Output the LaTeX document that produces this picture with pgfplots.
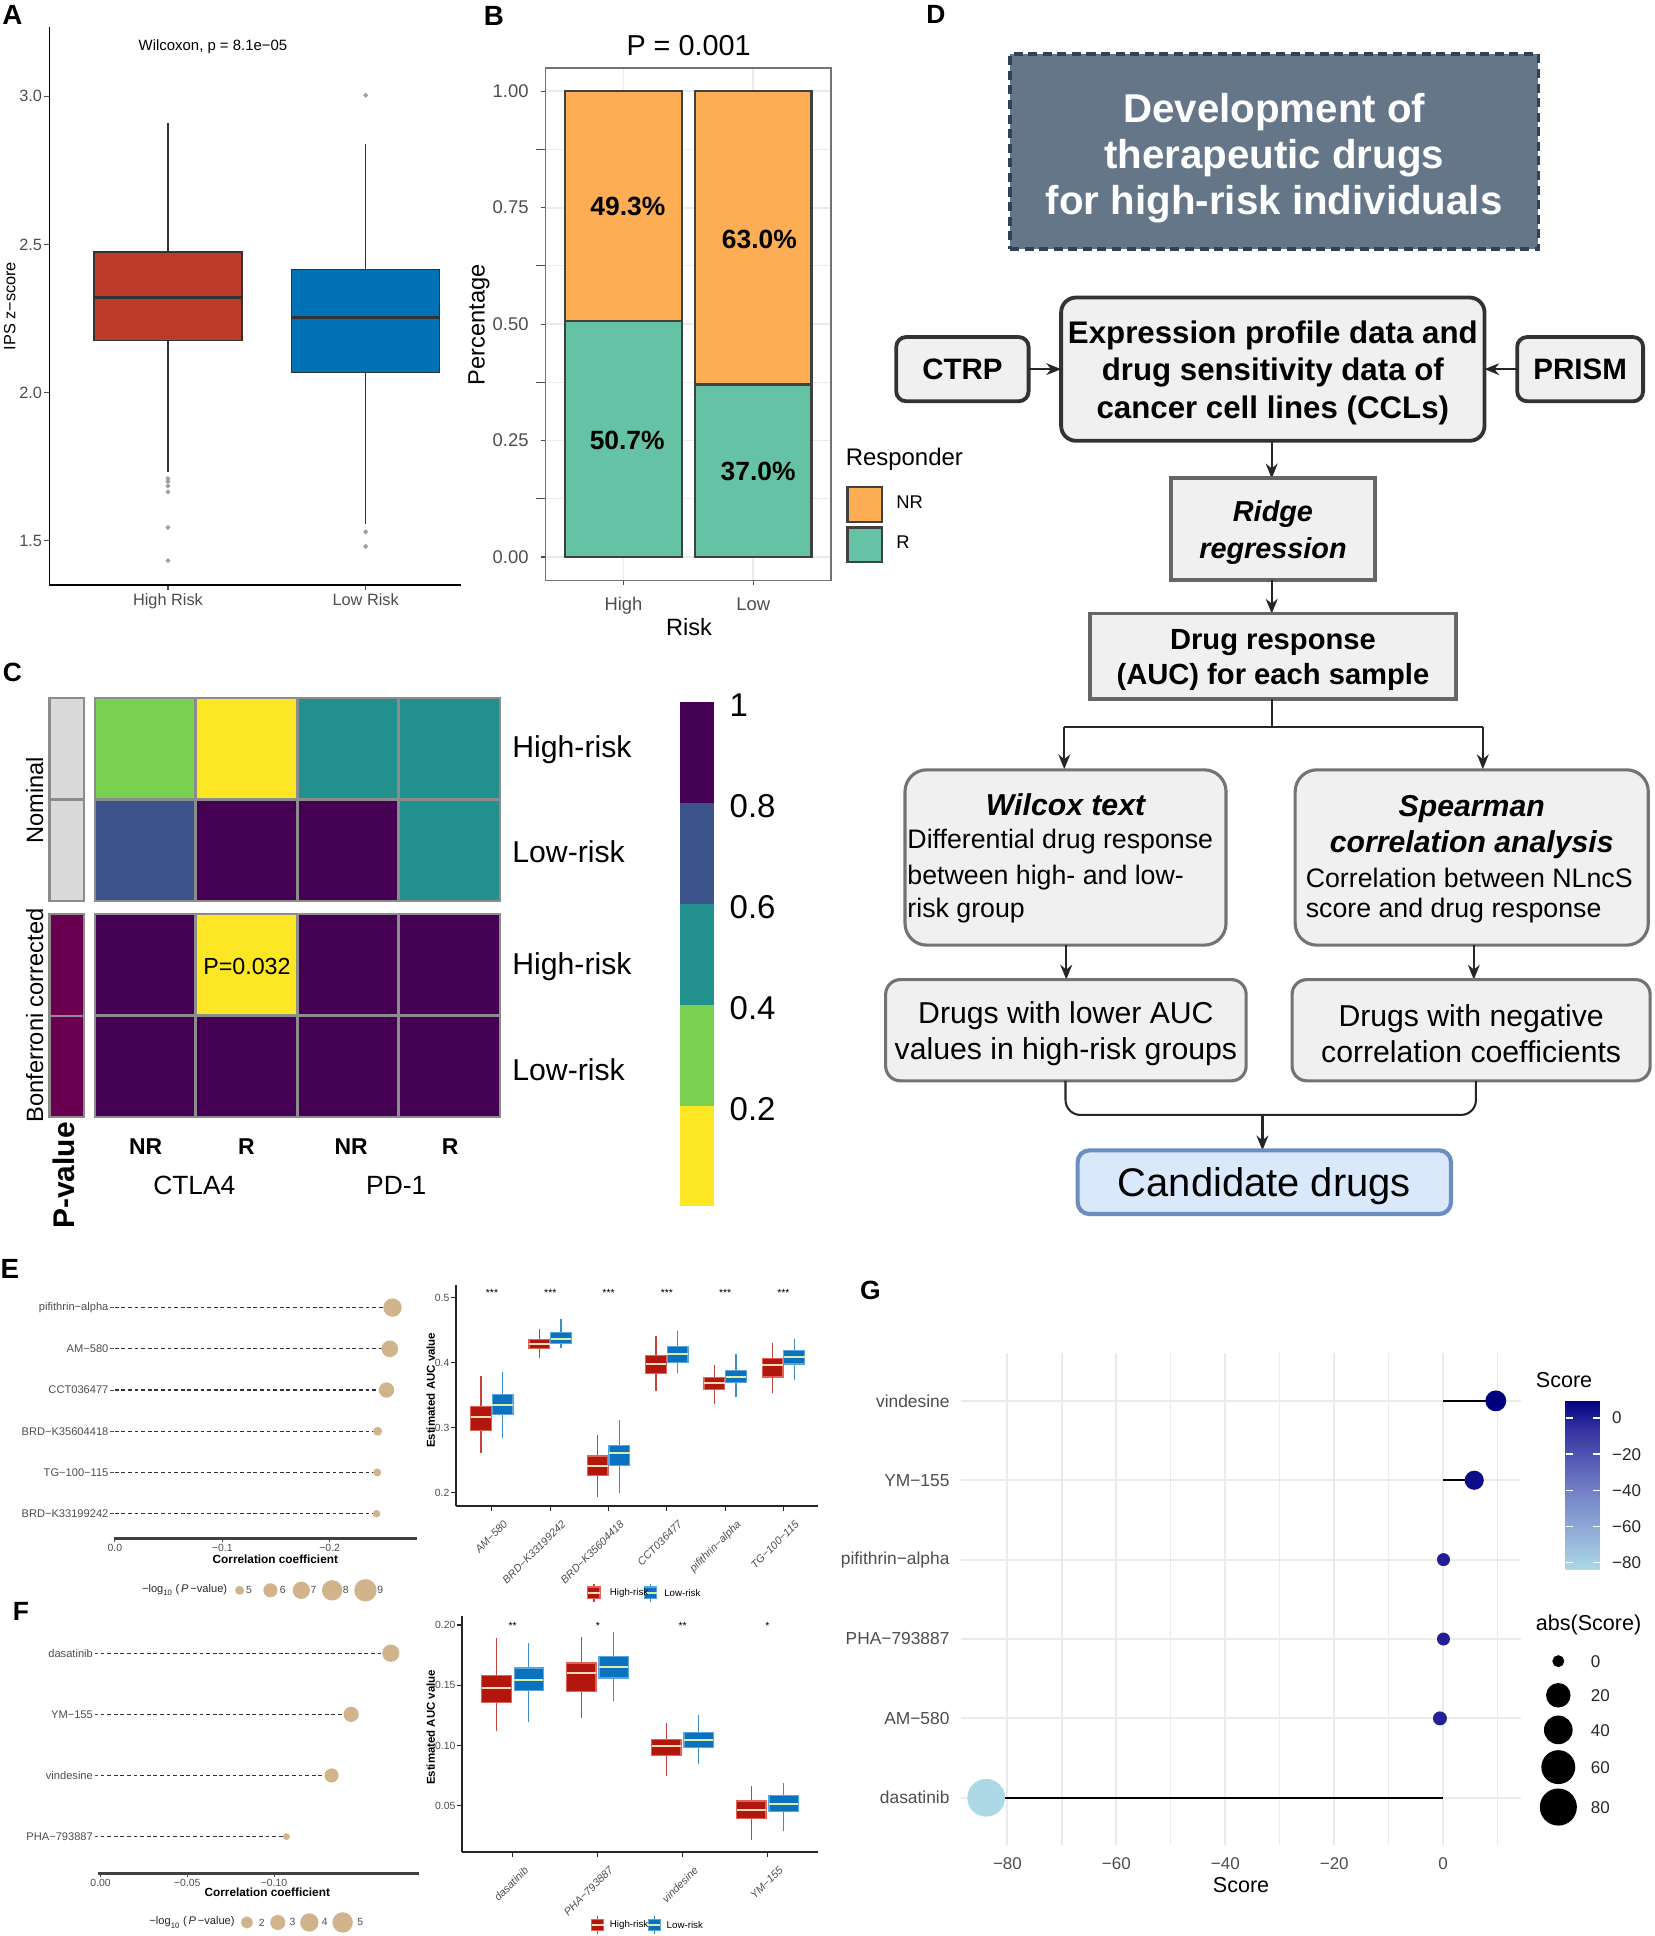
\documentclass[border=0pt]{standalone}
\usepackage{fontspec}
\setmainfont{Liberation Sans}
\usepackage{pgfplots}
\pgfplotsset{compat=1.18}
\usepgfplotslibrary{statistics}
\usetikzlibrary{arrows.meta}

\definecolor{gthirty}{RGB}{77,77,77}
\definecolor{nejmred}{RGB}{188,60,41}
\definecolor{nejmblue}{RGB}{0,114,181}
\definecolor{nrorange}{RGB}{253,174,84}
\definecolor{rgreen}{RGB}{102,194,165}
\definecolor{gridgrey}{RGB}{235,235,235}
\definecolor{cellgrey}{RGB}{140,140,140}
\definecolor{annogrey}{RGB}{218,218,218}
\definecolor{annomag}{RGB}{108,0,80}
\definecolor{titlebox}{RGB}{100,118,136}
\definecolor{titleedge}{RGB}{48,66,86}
\definecolor{boxfill}{RGB}{240,240,240}
\definecolor{candfill}{RGB}{218,232,252}
\definecolor{candedge}{RGB}{108,142,191}
\definecolor{tanc}{RGB}{210,180,140}
\definecolor{bxred}{RGB}{178,22,12}
\definecolor{bxredl}{RGB}{222,100,90}
\definecolor{bxblue}{RGB}{10,114,190}
\definecolor{bxbluel}{RGB}{90,165,222}
\definecolor{medred}{RGB}{245,222,190}
\definecolor{medblue}{RGB}{222,236,170}

\newcommand\fs[1]{\fontsize{#1}{#1}\selectfont}

\pgfplotsset{
  panel/.style={scale only axis, anchor=south west},
  hrbox/.style={draw=bxredl, fill=bxred, line width=0.35pt, solid,
    boxplot/every median/.style={draw=medred, line width=0.55pt},
    boxplot/every whisker/.style={draw=bxred!80!white, line width=0.35pt}},
  lrbox/.style={draw=bxbluel, fill=bxblue, line width=0.35pt, solid,
    boxplot/every median/.style={draw=medblue, line width=0.55pt},
    boxplot/every whisker/.style={draw=bxblue!80!white, line width=0.35pt}},
  sized/.style={visualization depends on={\thisrow{r}\as\rad},
    scatter/@pre marker code/.append style={/tikz/mark size=\rad}},
}

\begin{document}
\begin{tikzpicture}
\useasboundingbox (0,0) rectangle (167.5mm,-196mm);

% ---------------- A: IPS z-score boxplot
\begin{axis}[panel, at={(5mm,-59.25mm)}, width=41.625mm, height=56.5mm,
  xmin=0.4, xmax=2.48, ymin=1.35, ymax=3.233,
  axis x line*=bottom, axis y line*=left, axis line style={black, line width=0.5pt, -},
  xtick={1,2}, xticklabels={High Risk,Low Risk},
  ytick={1.5,2,2.5,3}, yticklabels={1.5,2.0,2.5,3.0},
  tick label style={font=\fs{4.7pt}, text=gthirty},
  xticklabel style={inner sep=0pt, yshift=-0.3mm},
  yticklabel style={inner sep=0.5pt},
  tick style={gthirty, line width=0.3pt}, major tick length=0.5mm, tick align=outside,
  boxplot/draw direction=y, boxplot/box extend=0.75, boxplot/whisker extend=0,
]
\addplot[boxplot prepared={draw position=1, lower whisker=1.732, lower quartile=2.175,
    median=2.321, upper quartile=2.475, upper whisker=2.911},
  draw=black!80, fill=nejmred, line width=0.4pt,
  boxplot/every median/.style={line width=0.9pt},
  mark=*, mark size=0.45pt, mark options={draw=gray!75, fill=gray!75}]
  table[row sep=\\, y index=0] {y\\ 1.71\\ 1.70\\ 1.685\\ 1.665\\ 1.545\\ 1.433\\};
\addplot[boxplot prepared={draw position=2, lower whisker=1.556, lower quartile=2.067,
    median=2.254, upper quartile=2.415, upper whisker=2.839},
  draw=black!80, fill=nejmblue, line width=0.4pt,
  boxplot/every median/.style={line width=0.9pt},
  mark=*, mark size=0.45pt, mark options={draw=gray!75, fill=gray!75}]
  table[row sep=\\, y index=0] {y\\ 3.003\\ 1.53\\ 1.481\\};
\end{axis}

% ---------------- B: responder percentages
\begin{axis}[panel, at={(55.25mm,-58.75mm)}, width=28.875mm, height=51.875mm,
  xmin=0.4, xmax=2.6, ymin=-0.05, ymax=1.05,
  ybar stacked, bar width=0.9,
  axis line style={black!55, line width=0.4pt},
  xtick={1,2}, xticklabels={High,Low},
  ytick={0,0.25,0.5,0.75,1}, yticklabels={0.00,0.25,0.50,0.75,1.00},
  minor ytick={0.125,0.375,0.625,0.875},
  xmajorgrids, ymajorgrids, yminorgrids,
  major grid style={gridgrey, line width=0.5pt}, minor grid style={gridgrey, line width=0.3pt},
  tick label style={font=\fs{5.3pt}, text=gthirty},
  tick style={gthirty, line width=0.3pt}, major tick length=0.5mm, tick align=outside,
  xtick pos=bottom, ytick pos=left,
  legend cell align=left, reverse legend,
  legend style={at={(1.052,0.1855)}, anchor=north west, draw=none, fill=none,
    font=\fs{5.3pt}, inner sep=0pt, row sep=0.35mm, column sep=1.3mm,
    nodes={inner sep=0pt}},
]
\addplot[fill=rgreen, draw=black!75, line width=0.7pt,
  legend image code/.code={\draw[fill=rgreen, draw=black!75, line width=0.7pt] (0mm,-1.75mm) rectangle (3.5mm,1.75mm);}]
  coordinates {(1,0.507) (2,0.370)};
\addplot[fill=nrorange, draw=black!75, line width=0.7pt,
  legend image code/.code={\draw[fill=nrorange, draw=black!75, line width=0.7pt] (0mm,-1.75mm) rectangle (3.5mm,1.75mm);}]
  coordinates {(1,0.493) (2,0.630)};
\legend{R,NR}
\end{axis}

% ---------------- C: p-value heatmap
\begin{axis}[panel, at={(9.5625mm,-113.125mm)}, width=41.1mm, height=42.5mm,
  xmin=0.5, xmax=4.5, ymin=0.5, ymax=4.621, clip=false,
  axis line style={draw=none}, xtick=\empty, ytick=\empty,
  colormap={hm}{rgb255=(253,231,37) rgb255=(122,209,81) rgb255=(34,144,140)
    rgb255=(59,82,139) rgb255=(68,1,84)},
  colormap access=piecewise constant,
  point meta min=0, point meta max=1,
  colorbar,
  colorbar style={scale only axis, at={(parent axis.north east)}, anchor=north west,
    xshift=15.2mm, yshift=-0.4mm, width=3.34mm, height=51.04mm,
    axis line style={draw=none}, major tick length=0pt,
    ytick={0.2,0.4,0.6,0.8,1}, yticklabels={0.2,0.4,0.6,0.8,1},
    yticklabel style={font=\fs{9.5pt}, anchor=west, inner sep=0pt, xshift=1.6mm, yshift=-0.4mm}},
]
\addplot[scatter, only marks, mark=square*, mark size=14.5pt, line width=0.6pt,
  point meta=explicit, scatter/use mapped color={draw=cellgrey, fill=mapped color}]
  table[x=x, y=y, meta=p] {
x y p
1 4.121 0.28
2 4.121 0.008
3 4.121 0.46
4 4.121 0.52
1 3.121 0.70
2 3.121 0.90
3 3.121 0.92
4 3.121 0.55
1 2 1
2 2 0.032
3 2 1
4 2 1
1 1 1
2 1 1
3 1 1
4 1 1
};
\addplot[fill=annogrey, draw=cellgrey, line width=0.6pt] coordinates {(0.057,3.621) (0.398,3.621) (0.398,4.621) (0.057,4.621)} -- cycle;
\addplot[fill=annogrey, draw=cellgrey, line width=0.6pt] coordinates {(0.057,2.621) (0.398,2.621) (0.398,3.621) (0.057,3.621)} -- cycle;
\addplot[fill=annomag, draw=cellgrey, line width=0.6pt] coordinates {(0.057,1.5) (0.398,1.5) (0.398,2.5) (0.057,2.5)} -- cycle;
\addplot[fill=annomag, draw=cellgrey, line width=0.6pt] coordinates {(0.057,0.5) (0.398,0.5) (0.398,1.5) (0.057,1.5)} -- cycle;
\end{axis}

% ---------------- E left: correlation lollipop
\begin{axis}[panel, at={(11.5mm,-155.75mm)}, width=30.75mm, height=25.875mm,
  x dir=reverse, xmin=-0.2816, xmax=0.0012, ymin=0.4, ymax=6.6, clip=false,
  axis x line*=bottom, axis y line*=left,
  x axis line style={black!75, line width=0.7pt, -}, y axis line style={draw=none},
  xtick={0,-0.1,-0.2}, xticklabels={0.0,−0.1,−0.2},
  ytick={1,2,3,4,5,6},
  yticklabels={BRD−K33199242,TG−100−115,BRD−K35604418,CCT036477,AM−580,pifithrin−alpha},
  yticklabel style={font=\fs{3.2pt}, text=gthirty, anchor=east, inner sep=0.3pt},
  xticklabel style={font=\fs{3pt}, text=gthirty, inner sep=0.5pt},
  tick style={gthirty, line width=0.25pt}, major tick length=0.35mm, tick align=outside,
]
\addplot[xcomb, draw=black!80, line width=0.35pt, dash pattern=on 1.1pt off 0.8pt]
  table[x=c, y=y] {
c y
-0.2585 6
-0.2560 5
-0.2529 4
-0.2447 3
-0.2443 2
-0.2437 1
};
\addplot[scatter, only marks, mark=*, scatter/use mapped color={draw=tanc, fill=tanc}, sized]
  table[x=c, y=y] {
c y r
-0.2585 6 2.44
-0.2560 5 2.2
-0.2529 4 2.0
-0.2447 3 1.07
-0.2443 2 0.93
-0.2437 1 0.86
};
% size key
\addplot[scatter, only marks, mark=*, scatter/use mapped color={draw=tanc, fill=tanc}, sized]
  table[x=c, y=y] {
c y r
-0.1161 -0.858 1.07
-0.1448 -0.858 1.83
-0.1736 -0.858 2.29
-0.2023 -0.858 2.74
-0.2333 -0.858 3.02
};
\end{axis}

% ---------------- E right: AUC boxplots
\begin{axis}[panel, at={(46.2mm,-152.5mm)}, width=36.65mm, height=22.44mm,
  xmin=0.39, xmax=6.6, ymin=0.179, ymax=0.52, clip=false,
  axis x line*=bottom, axis y line*=left, axis line style={black!85, line width=0.6pt, -},
  xtick={1,...,6},
  xticklabels={AM−580,BRD−K33199242,BRD−K35604418,CCT036477,pifithrin−alpha,TG−100−115},
  xticklabel style={xshift=1.1mm, yshift=-0.6mm, rotate=45, anchor=north east,
    font=\fs{3.1pt}\itshape, text=gthirty, inner sep=0.3pt},
  ytick={0.2,0.3,0.4,0.5}, yticklabels={0.2,0.3,0.4,0.5},
  yticklabel style={font=\fs{3pt}, text=gthirty, inner sep=0.4pt},
  tick style={black!85, line width=0.3pt}, major tick length=0.5mm, tick align=outside,
  boxplot/draw direction=y, boxplot/box extend=0.355, boxplot/whisker extend=0,
]
\addplot[hrbox, boxplot prepared={draw position=0.814, lower whisker=0.2615, lower quartile=0.2954, median=0.3159, upper quartile=0.3323, upper whisker=0.3795}] coordinates {};
\addplot[lrbox, boxplot prepared={draw position=1.186, lower whisker=0.2846, lower quartile=0.3205, median=0.3349, upper quartile=0.3513, upper whisker=0.3856}] coordinates {};
\addplot[hrbox, boxplot prepared={draw position=1.814, lower whisker=0.4067, lower quartile=0.4221, median=0.4292, upper quartile=0.4359, upper whisker=0.4523}] coordinates {};
\addplot[lrbox, boxplot prepared={draw position=2.186, lower whisker=0.4231, lower quartile=0.4292, median=0.4369, upper quartile=0.4467, upper whisker=0.4672}] coordinates {};
\addplot[hrbox, boxplot prepared={draw position=2.814, lower whisker=0.1938, lower quartile=0.2267, median=0.2415, upper quartile=0.2564, upper whisker=0.2882}] coordinates {};
\addplot[lrbox, boxplot prepared={draw position=3.186, lower whisker=0.1990, lower quartile=0.2421, median=0.2605, upper quartile=0.2728, upper whisker=0.3118}] coordinates {};
\addplot[hrbox, boxplot prepared={draw position=3.814, lower whisker=0.3564, lower quartile=0.3836, median=0.3985, upper quartile=0.4113, upper whisker=0.4410}] coordinates {};
\addplot[lrbox, boxplot prepared={draw position=4.186, lower whisker=0.3836, lower quartile=0.4000, median=0.4133, upper quartile=0.4246, upper whisker=0.4492}] coordinates {};
\addplot[hrbox, boxplot prepared={draw position=4.814, lower whisker=0.3359, lower quartile=0.3590, median=0.3682, upper quartile=0.3769, upper whisker=0.3959}] coordinates {};
\addplot[lrbox, boxplot prepared={draw position=5.186, lower whisker=0.3467, lower quartile=0.3692, median=0.3774, upper quartile=0.3882, upper whisker=0.4133}] coordinates {};
\addplot[hrbox, boxplot prepared={draw position=5.814, lower whisker=0.3528, lower quartile=0.3779, median=0.3959, upper quartile=0.4062, upper whisker=0.4308}] coordinates {};
\addplot[lrbox, boxplot prepared={draw position=6.186, lower whisker=0.3733, lower quartile=0.3979, median=0.4082, upper quartile=0.4185, upper whisker=0.4369}] coordinates {};
% legend keys
\addplot[hrbox, boxplot/box extend=0.2076, boxplot prepared={draw position=2.75, lower whisker=0.0318, lower quartile=0.0371, median=0.046, upper quartile=0.0549, upper whisker=0.0602}] coordinates {};
\addplot[lrbox, boxplot/box extend=0.2076, boxplot prepared={draw position=3.724, lower whisker=0.0318, lower quartile=0.0371, median=0.046, upper quartile=0.0549, upper whisker=0.0602}] coordinates {};
\end{axis}

% ---------------- F left: correlation lollipop
\begin{axis}[panel, at={(9.925mm,-189.65mm)}, width=32.54mm, height=26mm,
  x dir=reverse, xmin=-0.1839, xmax=0.0015, ymin=0.4, ymax=4.6, clip=false,
  axis x line*=bottom, axis y line*=left,
  x axis line style={black!75, line width=0.7pt, -}, y axis line style={draw=none},
  xtick={0,-0.05,-0.1}, xticklabels={0.00,−0.05,−0.10},
  ytick={1,2,3,4}, yticklabels={PHA−793887,vindesine,YM−155,dasatinib},
  yticklabel style={font=\fs{3.2pt}, text=gthirty, anchor=east, inner sep=0.3pt},
  xticklabel style={font=\fs{3pt}, text=gthirty, inner sep=0.5pt},
  tick style={gthirty, line width=0.25pt}, major tick length=0.35mm, tick align=outside,
]
\addplot[xcomb, draw=black!80, line width=0.35pt, dash pattern=on 1.1pt off 0.8pt]
  table[x=c, y=y] {
c y
-0.1674 4
-0.1445 3
-0.1332 2
-0.1072 1
};
\addplot[scatter, only marks, mark=*, scatter/use mapped color={draw=tanc, fill=tanc}, sized]
  table[x=c, y=y] {
c y r
-0.1674 4 2.29
-0.1445 3 1.99
-0.1332 2 1.83
-0.1072 1 0.76
};
\addplot[scatter, only marks, mark=*, scatter/use mapped color={draw=tanc, fill=tanc}, sized]
  table[x=c, y=y] {
c y r
-0.0844 -0.404 1.53
-0.1022 -0.404 1.97
-0.1204 -0.404 2.44
-0.1396 -0.404 2.74
};
\end{axis}

% ---------------- F right: AUC boxplots
\begin{axis}[panel, at={(46.81mm,-187.525mm)}, width=36.04mm, height=23.95mm,
  xmin=0.408, xmax=4.6, ymin=0.0113, ymax=0.2077, clip=false,
  axis x line*=bottom, axis y line*=left, axis line style={black!85, line width=0.6pt, -},
  xtick={1,...,4}, xticklabels={dasatinib,PHA−793887,vindesine,YM−155},
  xticklabel style={xshift=1.1mm, yshift=-0.6mm, rotate=45, anchor=north east,
    font=\fs{3.1pt}\itshape, text=gthirty, inner sep=0.3pt},
  ytick={0.05,0.1,0.15,0.2}, yticklabels={0.05,0.10,0.15,0.20},
  yticklabel style={font=\fs{3pt}, text=gthirty, inner sep=0.4pt},
  tick style={black!85, line width=0.3pt}, major tick length=0.5mm, tick align=outside,
  boxplot/draw direction=y, boxplot/box extend=0.345, boxplot/whisker extend=0,
]
\addplot[hrbox, boxplot prepared={draw position=0.81, lower whisker=0.1124, lower quartile=0.1356, median=0.1475, upper quartile=0.1580, upper whisker=0.1890}] coordinates {};
\addplot[lrbox, boxplot prepared={draw position=1.19, lower whisker=0.1191, lower quartile=0.1456, median=0.1544, upper quartile=0.1644, upper whisker=0.1851}] coordinates {};
\addplot[hrbox, boxplot prepared={draw position=1.81, lower whisker=0.1227, lower quartile=0.1448, median=0.1602, upper quartile=0.1685, upper whisker=0.1898}] coordinates {};
\addplot[lrbox, boxplot prepared={draw position=2.19, lower whisker=0.1367, lower quartile=0.1561, median=0.1649, upper quartile=0.1738, upper whisker=0.1942}] coordinates {};
\addplot[hrbox, boxplot prepared={draw position=2.81, lower whisker=0.0746, lower quartile=0.0917, median=0.0997, upper quartile=0.1050, upper whisker=0.1188}] coordinates {};
\addplot[lrbox, boxplot prepared={draw position=3.19, lower whisker=0.0843, lower quartile=0.0986, median=0.1047, upper quartile=0.1105, upper whisker=0.1254}] coordinates {};
\addplot[hrbox, boxplot prepared={draw position=3.81, lower whisker=0.0213, lower quartile=0.0392, median=0.0461, upper quartile=0.0539, upper whisker=0.0660}] coordinates {};
\addplot[lrbox, boxplot prepared={draw position=4.19, lower whisker=0.0290, lower quartile=0.0453, median=0.0514, upper quartile=0.0583, upper whisker=0.0688}] coordinates {};
% legend keys
\addplot[hrbox, boxplot/box extend=0.1425, boxplot prepared={draw position=2.0, lower whisker=-0.0567, lower quartile=-0.0538, median=-0.049, upper quartile=-0.0442, upper whisker=-0.0413}] coordinates {};
\addplot[lrbox, boxplot/box extend=0.1425, boxplot prepared={draw position=2.669, lower whisker=-0.0567, lower quartile=-0.0538, median=-0.049, upper quartile=-0.0442, upper whisker=-0.0413}] coordinates {};
\end{axis}

% ---------------- G: score lollipop
\begin{axis}[panel, at={(97.25mm,-186.825mm)}, width=56.69mm, height=49.825mm,
  xmin=-88.6, xmax=14.2, ymin=0.4, ymax=6.6, clip=false,
  axis line style={draw=none}, tick style={draw=none},
  xtick={-80,-60,-40,-20,0}, xticklabels={−80,−60,−40,−20,0},
  minor xtick={-70,-50,-30,-10,10},
  ytick={1,...,6}, yticklabels={dasatinib,AM−580,PHA−793887,pifithrin−alpha,YM−155,vindesine},
  xmajorgrids, xminorgrids, ymajorgrids,
  major grid style={gridgrey, line width=0.55pt}, minor grid style={gridgrey, line width=0.35pt},
  xticklabel style={font=\fs{4.9pt}, text=gthirty, anchor=north, inner sep=0pt, yshift=-1.2mm},
  yticklabel style={font=\fs{5pt}, text=gthirty, anchor=east, inner sep=0pt, xshift=-1.06mm},
  colormap={sc}{rgb255(0cm)=(173,216,230) rgb255(5cm)=(110,122,196) rgb255(8.5cm)=(50,46,160) rgb255(10cm)=(0,0,128)},
  point meta min=-83.9, point meta max=9.66,
  colorbar,
  colorbar style={scale only axis, at={(parent axis.north east)}, anchor=north west,
    xshift=1.5625mm, yshift=-4.79mm, width=3.44mm, height=17.125mm,
    axis line style={draw=none},
    ytick={-80,-60,-40,-20,0}, yticklabels={−80,−60,−40,−20,0},
    ytick pos=both, yticklabel pos=right, tick align=inside, major tick length=0.7mm,
    tick style={white, line width=0.4pt},
    yticklabel style={font=\fs{4.9pt}, text=black!85, anchor=west, inner sep=0pt, xshift=1.2mm}},
]
\addplot[xcomb, black, line width=0.6pt] table[x=s, y=y] {
y s
1 -83.9
2 -0.6
3 0.05
4 0.05
5 5.7
6 9.66
};
\addplot[scatter, only marks, mark=*, point meta=explicit,
  scatter/use mapped color={draw=mapped color, fill=mapped color}, sized]
  table[x=s, y=y, meta=s] {
y s r
1 -83.9 5.23
2 -0.6 1.81
3 0.05 1.67
4 0.05 1.67
5 5.7 2.55
6 9.66 2.8
};
\addplot[scatter, only marks, mark=*, scatter/use mapped color={draw=black, fill=black}, sized]
  table[x=x, y=y] {
x y r
21.13 2.721 1.51
21.13 2.291 3.32
21.13 1.855 3.93
21.13 1.386 4.68
21.13 0.883 5.14
};
\end{axis}

% ---------------- texts and flowchart
\begin{scope}[x=0.125mm, y=-0.125mm, every node/.style={inner sep=0pt, outer sep=0pt}]
% panel letters
\node[font=\bfseries\fs{8pt}] at (10,12) {A};
\node[font=\bfseries\fs{8pt}] at (400,13) {B};
\node[font=\bfseries\fs{7.6pt}] at (10,545) {C};
\node[font=\bfseries\fs{7.6pt}] at (758,12) {D};
\node[font=\bfseries\fs{8pt}] at (8,1028) {E};
\node[font=\bfseries\fs{7.6pt}] at (17,1305) {F};
\node[font=\bfseries\fs{7.6pt}] at (705,1045) {G};

% A
\node[font=\fs{4.7pt}, rotate=90] at (8,248) {IPS z−score};
\node[font=\fs{4.3pt}] at (172.5,38) {Wilcoxon, p = 8.1e−05};

% B
\node[font=\fs{8.3pt}] at (557.7,37) {P = 0.001};
\node[font=\fs{6.8pt}, rotate=90] at (388,263) {Percentage};
\node[font=\fs{6.8pt}] at (558,508) {Risk};
\node[font=\fs{6.9pt}, anchor=west] at (685,372) {Responder};
\node[font=\bfseries\fs{7.6pt}] at (508.5,167) {49.3\%};
\node[font=\bfseries\fs{7.6pt}] at (508,357) {50.7\%};
\node[font=\bfseries\fs{7.6pt}] at (615,194) {63.0\%};
\node[font=\bfseries\fs{7.6pt}] at (614,382) {37.0\%};

% C
\foreach \yy/\tt in {607/High-risk, 690/Low-risk, 783/High-risk, 866/Low-risk}
  \node[font=\fs{8.7pt}, anchor=west] at (415,\yy) {\tt};
\node[font=\fs{6.7pt}] at (200,782.5) {P=0.032};
\node[font=\bfseries\fs{6.6pt}] at (118,929) {NR};
\node[font=\bfseries\fs{6.6pt}] at (199.5,929) {R};
\node[font=\bfseries\fs{6.6pt}] at (284.4,929) {NR};
\node[font=\bfseries\fs{6.6pt}] at (364.6,929) {R};
\node[font=\fs{7.6pt}] at (157.4,960) {CTLA4};
\node[font=\fs{7.6pt}] at (320.9,960) {PD-1};
\node[font=\fs{6.8pt}, rotate=90] at (28,648) {Nominal};
\node[font=\fs{6.8pt}, rotate=90] at (28,822.5) {Bonferroni corrected};
\node[font=\bfseries\fs{8.6pt}, rotate=90] at (51.5,952) {P-value};

% E / F texts
\node[font=\bfseries\fs{3.4pt}] at (223,1263) {Correlation coefficient};
\node[font=\fs{3.2pt}, text=black!85, anchor=east] at (184,1288) {−log\textsubscript{10}\,(\,\textit{P}\,−value)};
\foreach \xx/\tt in {201.6/5, 229/6, 254/7, 280/8, 308/9}
  \node[font=\fs{3pt}, text=gthirty] at (\xx,1288) {\tt};
\node[font=\bfseries\fs{3.3pt}, rotate=90] at (349,1126) {Estimated AUC value};
\node[font=\fs{2.8pt}, anchor=west] at (494,1290) {High-risk};
\node[font=\fs{2.8pt}, anchor=west] at (538,1290) {Low-risk};
\foreach \xx in {398.5,445.7,492.9,540.1,587.3,634.5}
  \node[font=\fs{3pt}] at (\xx,1047) {***};

\node[font=\bfseries\fs{3.4pt}] at (216.5,1532.6) {Correlation coefficient};
\node[font=\fs{3.2pt}, text=black!85, anchor=east] at (190,1557) {−log\textsubscript{10}\,(\,\textit{P}\,−value)};
\foreach \xx/\tt in {212/2, 237/3, 263/4, 291.7/5}
  \node[font=\fs{3pt}, text=gthirty] at (\xx,1557) {\tt};
\node[font=\bfseries\fs{3.3pt}, rotate=90] at (349,1399) {Estimated AUC value};
\node[font=\fs{2.8pt}, anchor=west] at (494,1559) {High-risk};
\node[font=\fs{2.8pt}, anchor=west] at (540,1559) {Low-risk};
\node[font=\fs{3pt}] at (415.2,1317) {**};
\node[font=\fs{3pt}] at (484.3,1317) {*};
\node[font=\fs{3pt}] at (552.9,1317) {**};
\node[font=\fs{3pt}] at (621.5,1317) {*};

% G texts
\node[font=\fs{6.2pt}] at (1005.2,1527) {Score};
\node[font=\fs{6.2pt}, anchor=west] at (1244,1118) {Score};
\node[font=\fs{6.2pt}, anchor=west] at (1244,1315.7) {abs(Score)};
\foreach \yy/\tt in {1345.7/0, 1373.3/20, 1401.3/40, 1431.4/60, 1463.7/80}
  \node[font=\fs{4.9pt}, text=black!85, anchor=west] at (1288.5,\yy) {\tt};

% D flowchart
\tikzset{arr/.style={-{Stealth[length=1.5mm, width=1.2mm]}, black!85, line width=0.6pt}}
\node[fill=titlebox, draw=titleedge, line width=1.1pt, dash pattern=on 2.6pt off 1.6pt,
  minimum width=53.5mm, minimum height=19.75mm] at (1032,123) {};
\node[text=white, font=\bfseries\fontsize{11.6pt}{13.3pt}\selectfont, align=center] at (1032,128) {Development of\\therapeutic drugs\\for high-risk individuals};

\node[fill=boxfill, draw=black!80, line width=1.1pt, rounded corners=1.5mm,
  minimum width=42.86mm, minimum height=14.5mm] at (1030.9,299) {};
\node[font=\bfseries\fontsize{9pt}{10.7pt}\selectfont, align=center] at (1030.9,302) {Expression profile data and\\drug sensitivity data of\\cancer cell lines (CCLs)};

\node[fill=boxfill, draw=black!80, line width=1.1pt, rounded corners=1mm,
  minimum width=13.4mm, minimum height=6.5mm, font=\bfseries\fs{8.5pt}] at (779.5,299) {CTRP};
\node[fill=boxfill, draw=black!80, line width=1.1pt, rounded corners=1mm,
  minimum width=12.75mm, minimum height=6.5mm, font=\bfseries\fs{8.5pt}] at (1279.8,299) {PRISM};
\draw[arr] (833,299) -- (859.4,299);
\draw[arr] (1228.8,299) -- (1202.3,299);
\draw[arr] (1030,357) -- (1030,387.5);

\node[fill=boxfill, draw=black!60, line width=1.1pt, minimum width=20.6mm, minimum height=10.26mm] at (1031,428.5) {};
\node[font=\bfseries\itshape\fontsize{8.3pt}{10.6pt}\selectfont, align=center] at (1031,431.5) {Ridge\\regression};
\draw[arr] (1030,469.6) -- (1030,497);

\node[fill=boxfill, draw=black!60, line width=1.1pt, minimum width=37mm, minimum height=8.69mm] at (1031,531.7) {};
\node[font=\bfseries\fontsize{8.4pt}{10.1pt}\selectfont, align=center] at (1031,534.5) {Drug response\\(AUC) for each sample};
\draw[black!85, line width=0.6pt] (1030,566.5) -- (1030,589) (862,589) -- (1201,589);
\draw[arr] (862,589) -- (862,623);
\draw[arr] (1201,589) -- (1201,623);

\node[fill=boxfill, draw=black!55, line width=0.9pt, rounded corners=2.2mm,
  minimum width=32.5mm, minimum height=17.75mm] at (863,694.5) {};
\node[font=\bfseries\itshape\fs{8.7pt}] at (863,652) {Wilcox text};
\node[font=\fs{7.7pt}, anchor=west] at (735,681.6) {Differential drug response};
\node[font=\fs{7.7pt}, anchor=west] at (735,710.7) {between high- and low-};
\node[font=\fs{7.7pt}, anchor=west] at (735,737.8) {risk group};

\node[fill=boxfill, draw=black!55, line width=0.9pt, rounded corners=2.2mm,
  minimum width=35.75mm, minimum height=17.75mm] at (1192,694.5) {};
\node[font=\bfseries\itshape\fs{8.7pt}] at (1192,655) {Spearman};
\node[font=\bfseries\itshape\fs{8.7pt}] at (1192,684) {correlation analysis};
\node[font=\fs{7.7pt}, anchor=west] at (1057.6,710.7) {Correlation between NLncS};
\node[font=\fs{7.7pt}, anchor=west] at (1057.6,737.8) {score and drug response};

\draw[arr] (863.6,765.6) -- (863.6,793.4);
\draw[arr] (1193.7,765.6) -- (1193.7,793.4);

\node[fill=boxfill, draw=black!55, line width=0.9pt, rounded corners=1.5mm,
  minimum width=36.5mm, minimum height=10.25mm] at (863.3,834.4) {};
\node[font=\fontsize{8.7pt}{10.3pt}\selectfont, align=center] at (863.3,837.5) {Drugs with lower AUC\\values in high-risk groups};
\node[fill=boxfill, draw=black!55, line width=0.9pt, rounded corners=1.5mm,
  minimum width=36.25mm, minimum height=10.25mm] at (1191.5,834.4) {};
\node[font=\fontsize{8.7pt}{10.3pt}\selectfont, align=center] at (1191.5,837.5) {Drugs with negative\\correlation coefficients};

\draw[black!85, line width=0.6pt, rounded corners=1.5mm] (863,875.4) -- (863,903) -- (1195.4,903) -- (1195.4,875.4);
\draw[arr] (1022.5,903) -- (1022.5,931.7);
\node[fill=candfill, draw=candedge, line width=1.2pt, rounded corners=1.2mm,
  minimum width=37.8mm, minimum height=6.45mm] at (1024,957.5) {};
\node[font=\fs{11.5pt}] at (1024,960.5) {Candidate drugs};
\end{scope}
\end{tikzpicture}
\end{document}
